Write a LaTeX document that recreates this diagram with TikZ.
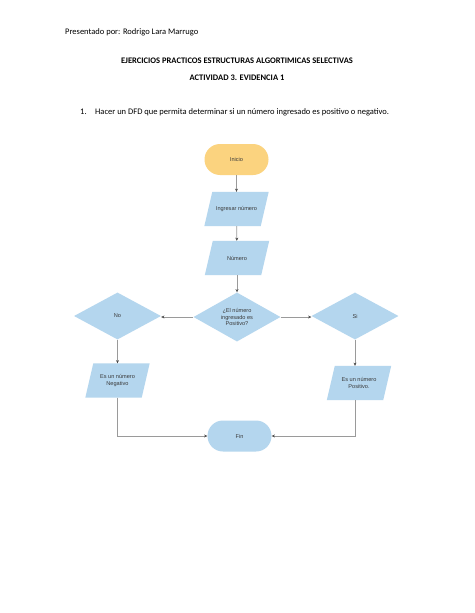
\documentclass[tikz,border=0pt]{standalone}
\usepackage{fontspec}
\setmainfont{Carlito}
\newfontfamily\flowfont{Liberation Sans}
\usetikzlibrary{shapes.geometric,shapes.misc,arrows.meta,backgrounds}
\definecolor{orangefill}{HTML}{FBD37F}
\definecolor{bluefill}{HTML}{B4D6EE}
\definecolor{linegray}{HTML}{9A9A9A}
\definecolor{tipgray}{HTML}{4A4A4A}
\definecolor{flowtext}{HTML}{3A3A3A}
\tikzset{
  flow/.style={font=\flowfont\fontsize{5.6}{6.4}\selectfont, text=flowtext, align=center, inner sep=0pt},
  terminal/.style={flow, rounded rectangle, minimum width=64pt, minimum height=31pt},
  iobox/.style={flow, rectangle, minimum width=56pt, minimum height=34pt},
  decision/.style={flow, diamond, fill=bluefill, minimum width=87pt, minimum height=47pt},
  conn/.style={draw=linegray, line width=0.8pt, -{Stealth[length=3.2pt,width=3pt,color=tipgray,fill=tipgray]}},
  hdr/.style={font=\fontsize{8.5}{10}\selectfont, inner sep=0pt},
}
\newcommand{\paraFill}[1]{%
  \fill[bluefill] ([xshift=-4pt]#1.south west) -- ([xshift=-4pt]#1.south east)
    -- ([xshift=4pt]#1.north east) -- ([xshift=4pt]#1.north west) -- cycle;}
\begin{document}
\begin{tikzpicture}[x=1pt,y=-1pt]
\begin{scope}[on background layer]
\fill[white] (0,0) rectangle (474,613);
\end{scope}
\useasboundingbox (0,0) rectangle (474,613);
% header texts
\node[hdr, anchor=west] (author) at (65,32) {Presentado por: Rodrigo Lara Marrugo};
\node[hdr, font=\fontsize{8.5}{10}\selectfont\bfseries] (title) at (237,61) {EJERCICIOS PRACTICOS ESTRUCTURAS ALGORTIMICAS SELECTIVAS};
\node[hdr, font=\fontsize{8.5}{10}\selectfont\bfseries] (act) at (237,78) {ACTIVIDAD 3. EVIDENCIA 1};
\node[hdr, anchor=west] (num) at (80,112) {1.};
\node[hdr, anchor=west] (task) at (95,112) {Hacer un DFD que permita determinar si un número ingresado es positivo o negativo.};
% flowchart
\node[terminal, fill=orangefill] (inicio) at (236.5,159.5) {Inicio};
\node[iobox] (ingresar) at (236.5,209) {Ingresar número};
\node[iobox] (numero) at (237,258) {Número};
\node[decision] (cond) at (237,317) {¿El número\\ingresado es\\Positivo?};
\node[decision] (no) at (117.5,316) {No};
\node[decision] (si) at (355,316) {Si};
\node[iobox] (neg) at (117.5,380.5) {Es un número\\Negativo};
\node[iobox] (pos) at (359,383) {Es un número\\Positivo.};
\node[terminal, fill=bluefill] (fin) at (239.5,436) {Fin};
\begin{scope}[on background layer]
\paraFill{ingresar}
\paraFill{numero}
\paraFill{neg}
\paraFill{pos}
\end{scope}
% connectors
\draw[conn] (inicio) -- (ingresar);
\draw[conn] (ingresar) -- (numero);
\draw[conn] (numero) -- (cond);
\draw[conn] (cond.west) -- (cond.west -| no.east);
\draw[conn] (cond.east) -- (cond.east -| si.west);
\draw[conn] (no.south) -- (no.south |- neg.north);
\draw[conn] (si.south) -- (si.south |- pos.north);
\draw[conn] (no.south |- neg.south) |- (fin.west);
\draw[conn] (si.south |- pos.south) |- (fin.east);
\end{tikzpicture}
\end{document}
